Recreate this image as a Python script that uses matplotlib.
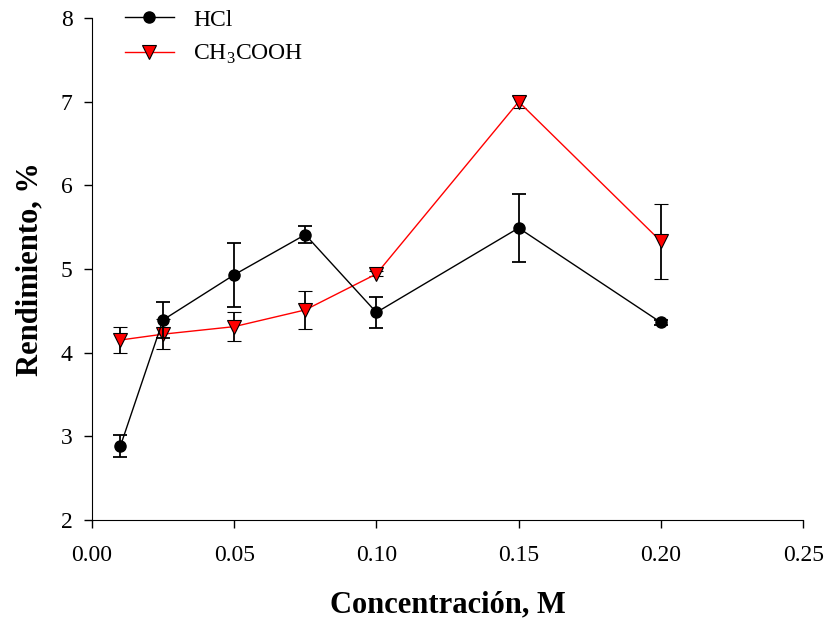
import numpy as np
import matplotlib.pyplot as plt
from matplotlib.lines import Line2D

plt.rcParams['font.family'] = ['Liberation Serif', 'DejaVu Serif']
plt.rcParams['mathtext.fontset'] = 'custom'
plt.rcParams['mathtext.rm'] = 'Liberation Serif'

# concentraciones y rendimientos
conc = [0.01, 0.025, 0.05, 0.075, 0.10, 0.15, 0.20]
hcl = [2.88, 4.39, 4.93, 5.41, 4.48, 5.49, 4.36]
hcl_err = [0.13, 0.21, 0.38, 0.10, 0.19, 0.41, 0.03]
acet = [4.15, 4.22, 4.31, 4.51, 4.94, 7.00, 5.33]
acet_err = [0.15, 0.18, 0.17, 0.23, 0.03, 0.07, 0.45]

fig = plt.figure(figsize=(8.28, 6.24), dpi=100)
ax = fig.add_axes([0.111, 0.167, 0.859, 0.804])

ax.errorbar(conc, hcl, yerr=hcl_err, fmt='o-', color='black', ecolor='black',
            markersize=8, linewidth=1, elinewidth=1.3, capsize=5, capthick=1.3,
            zorder=3)
ax.errorbar(conc, acet, yerr=acet_err, fmt='v-', color='red', ecolor='black',
            markerfacecolor='red', markeredgecolor='black', markeredgewidth=0.8,
            markersize=10, linewidth=1, elinewidth=1.3, capsize=5, capthick=1.3,
            zorder=2)

ax.set_xlim(0, 0.25)
ax.set_ylim(2, 8)
ax.set_xticks(np.arange(0, 0.26, 0.05))
ax.set_xticklabels(['0.00', '0.05', '0.10', '0.15', '0.20', '0.25'])
ax.set_yticks(range(2, 9))
ax.tick_params(direction='out', length=6, width=1, labelsize=17)
ax.tick_params(axis='x', pad=12)
ax.tick_params(axis='y', pad=8)
ax.spines['top'].set_visible(False)
ax.spines['right'].set_visible(False)

ax.set_xlabel('Concentración, M', fontsize=22, fontweight='bold', labelpad=18)
ax.set_ylabel('Rendimiento, %', fontsize=22, fontweight='bold', labelpad=12)

# leyenda solo con linea y marcador
handles = [
    Line2D([], [], color='black', marker='o', markersize=8, linewidth=1),
    Line2D([], [], color='red', marker='v', markersize=10, linewidth=1,
           markerfacecolor='red', markeredgecolor='black', markeredgewidth=0.8),
]
ax.legend(handles, ['HCl', r'CH$_3$COOH'], loc='upper left',
          bbox_to_anchor=(0.046, 1.018), frameon=False, fontsize=17,
          handlelength=2.1, handletextpad=0.8, labelspacing=0.52,
          borderpad=0, borderaxespad=0)

fig.savefig('out.png', dpi=100)
